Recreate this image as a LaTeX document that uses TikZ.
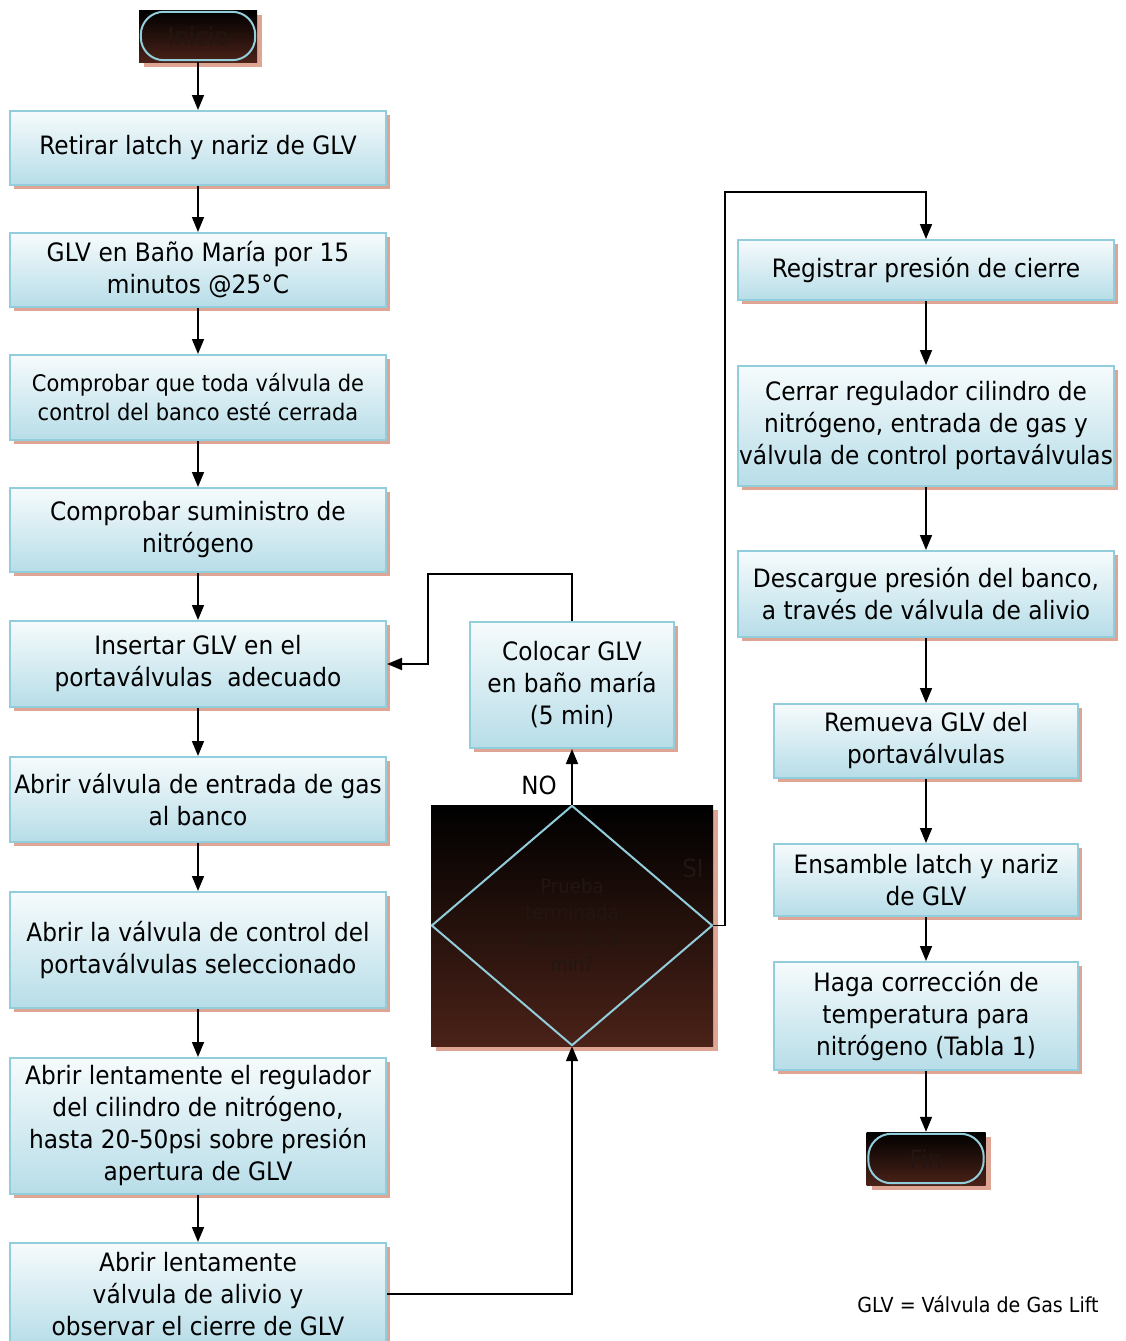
\documentclass[tikz,border=0pt]{standalone}
\usepackage{fontspec}
\setmainfont{DejaVu Sans}[FakeStretch=0.92]
\usetikzlibrary{arrows.meta,shadows,calc}
\definecolor{bdr}{RGB}{146,205,220}
\definecolor{boxb}{RGB}{183,221,232}
\definecolor{boxt}{RGB}{246,251,252}
\definecolor{shad}{RGB}{222,164,148}
\definecolor{brn}{RGB}{74,34,24}
\definecolor{dtext}{RGB}{34,22,18}
\begin{document}
\begin{tikzpicture}[x=1pt,y=-1pt,
  box/.style={draw=bdr, line width=2pt, top color=boxt, bottom color=boxb, align=center,
    inner sep=1pt, font=\fontsize{25.3}{32}\selectfont,
    drop shadow={shadow xshift=4pt, shadow yshift=-4pt, fill=shad, opacity=1}},
  term/.style={rectangle, draw=none, top color=black, bottom color=brn, text=dtext,
    font=\fontsize{25}{28}\selectfont,
    drop shadow={shadow xshift=5pt, shadow yshift=-5pt, fill=shad, opacity=1}},
  pill/.style={draw=bdr, line width=2pt, rounded corners=23pt},
  arr/.style={line width=1.6pt, -{Triangle[length=15pt,width=12pt]}},
  ln/.style={line width=1.6pt}]
\useasboundingbox (0,0) rectangle (1126,1341);

% terminals
\node[term, minimum width=118pt, minimum height=52pt] (ini) at (198,36) {Inicio};
\draw[pill] ([shift={(2,2)}]ini.north west) rectangle ([shift={(-2,-2)}]ini.south east);
\node[term, minimum width=119pt, minimum height=53pt] (fin) at (926,1158.5) {Fin};
\draw[pill] ([shift={(2,2)}]fin.north west) rectangle ([shift={(-2,-2)}]fin.south east);

% left column
\node[box, minimum width=376pt, minimum height=74pt] (b1) at (198,148) {Retirar latch y nariz de GLV};
\node[box, minimum width=376pt, minimum height=74pt] (b2) at (198,270) {GLV en Baño María por 15\\minutos @25°C};
\node[box, minimum width=376pt, minimum height=85pt, font=\fontsize{22.8}{29}\selectfont] (b3) at (198,397.5) {Comprobar que toda válvula de\\control del banco esté cerrada};
\node[box, minimum width=376pt, minimum height=84pt] (b4) at (198,530) {Comprobar suministro de\\nitrógeno};
\node[box, minimum width=376pt, minimum height=86pt] (b5) at (198,664) {Insertar GLV en el\\portaválvulas\ \ adecuado};
\node[box, minimum width=376pt, minimum height=85pt] (b6) at (198,799.5) {Abrir válvula de entrada de gas\\al banco};
\node[box, minimum width=376pt, minimum height=116pt] (b7) at (198,950) {Abrir la válvula de control del\\portaválvulas seleccionado};
\node[box, minimum width=376pt, minimum height=136pt] (b8) at (198,1126) {Abrir lentamente el regulador\\del cilindro de nitrógeno,\\hasta 20-50psi sobre presión\\apertura de GLV};
\node[box, minimum width=376pt, minimum height=102pt] (b9) at (198,1294) {Abrir lentamente\\válvula de alivio y\\observar el cierre de GLV};

% middle
\node[box, minimum width=204pt, minimum height=126pt] (col) at (572,685) {Colocar GLV\\en baño maría\\(5 min)};
\node[term, minimum width=282pt, minimum height=241pt, align=center, font=\fontsize{19.7}{26}\selectfont] (dq) at (572,925.5) {Prueba\\terminada\\antes de 3\\min?};
\draw[draw=bdr, line width=2pt] ([yshift=-1pt]dq.north) -- ([xshift=-1pt]dq.east) -- ([yshift=1pt]dq.south) -- ([xshift=1pt]dq.west) -- cycle;
\node[text=dtext, font=\fontsize{25}{28}\selectfont] (si) at (693,868) {SI};
\node[font=\fontsize{25}{28}\selectfont] (no) at (539,785) {NO};

% right column
\node[box, minimum width=376pt, minimum height=60pt] (r1) at (926,270) {Registrar presión de cierre};
\node[box, minimum width=376pt, minimum height=120pt] (r2) at (926,426) {Cerrar regulador cilindro de\\nitrógeno, entrada de gas y\\válvula de control portaválvulas};
\node[box, minimum width=376pt, minimum height=86pt] (r3) at (926,594) {Descargue presión del banco,\\a través de válvula de alivio};
\node[box, minimum width=304pt, minimum height=74pt] (r4) at (926,741) {Remueva GLV del\\portaválvulas};
\node[box, minimum width=304pt, minimum height=72pt] (r5) at (926,880) {Ensamble latch y nariz\\de GLV};
\node[box, minimum width=304pt, minimum height=108pt] (r6) at (926,1016) {Haga corrección de\\temperatura para\\nitrógeno (Tabla 1)};

\node[font=\fontsize{20.7}{24}\selectfont] (leg) at (978,1304) {GLV = Válvula de Gas Lift};

% connectors
\draw[arr] (ini) -- (b1);
\draw[arr] (b1) -- (b2);
\draw[arr] (b2) -- (b3);
\draw[arr] (b3) -- (b4);
\draw[arr] (b4) -- (b5);
\draw[arr] (b5) -- (b6);
\draw[arr] (b6) -- (b7);
\draw[arr] (b7) -- (b8);
\draw[arr] (b8) -- (b9);
\draw[arr] (b9.east) -| (dq.south);
\draw[arr] (dq.north) -- (col.south);
\coordinate (c1) at (428,574);
\draw[arr] (col.north) |- (c1) |- (b5.east);
\coordinate (c2) at (725,192);
\draw[arr] (dq.east) -| (c2) -| (r1.north);
\draw[arr] (r1) -- (r2);
\draw[arr] (r2) -- (r3);
\draw[arr] (r3) -- (r4);
\draw[arr] (r4) -- (r5);
\draw[arr] (r5) -- (r6);
\draw[arr] (r6) -- (fin);
\end{tikzpicture}
\end{document}
